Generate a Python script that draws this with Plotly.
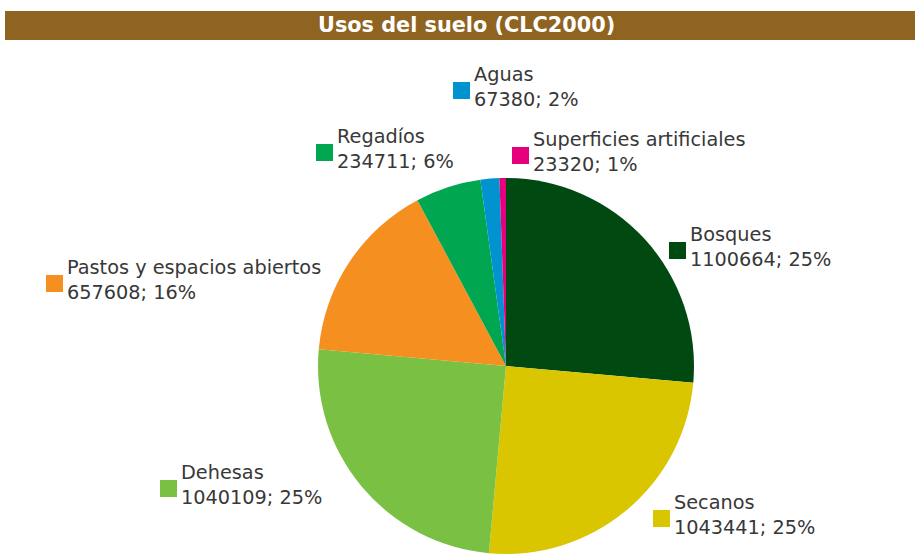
import plotly.graph_objects as go

# Land-use categories (CORINE Land Cover 2000), in clockwise order from 12 o'clock
categories = ["Bosques", "Secanos", "Dehesas", "Pastos y espacios abiertos",
              "Regadíos", "Aguas", "Superficies artificiales"]
areas = [1100664, 1043441, 1040109, 657608, 234711, 67380, 23320]
pct_labels = ["25%", "25%", "25%", "16%", "6%", "2%", "1%"]
colors = ["#004a12", "#d9c600", "#7ac143", "#f58f1f", "#00a650", "#0093d0", "#e6007e"]

W, H = 915, 554


def px(x):
    return x / W


def py(y):
    return 1 - y / H


# pie placement (pixel centre and radius)
cx, cy, r = 506, 366, 188

fig = go.Figure(go.Pie(
    labels=categories,
    values=areas,
    sort=False,
    direction="clockwise",
    rotation=0,
    marker=dict(colors=colors, line=dict(width=0)),
    textinfo="none",
    hoverinfo="label+value+percent",
    showlegend=False,
    domain=dict(x=[px(cx - r), px(cx + r)], y=[py(cy + r), py(cy - r)]),
))

# label anchor positions (top-left of the colour square, in pixels)
label_pos = {
    "Bosques": (669, 242),
    "Secanos": (653, 510),
    "Dehesas": (160, 480),
    "Pastos y espacios abiertos": (46, 275),
    "Regadíos": (316, 144),
    "Aguas": (453, 82),
    "Superficies artificiales": (512, 147),
}

shapes = [
    dict(type="rect", xref="paper", yref="paper",
         x0=px(5), x1=px(915), y0=py(40), y1=py(11),
         fillcolor="#8f6320", line=dict(width=0), layer="below"),
]
annotations = [
    dict(text="<b>Usos del suelo (CLC2000)</b>", x=px(467), y=py(25.5),
         xref="paper", yref="paper", xanchor="center", yanchor="middle",
         showarrow=False, font=dict(family="DejaVu Sans", size=20.8, color="white")),
]

sq = 17
for name, val, pct, col in zip(categories, areas, pct_labels, colors):
    sx, sy = label_pos[name]
    shapes.append(dict(type="rect", xref="paper", yref="paper",
                       x0=px(sx), x1=px(sx + sq), y0=py(sy + sq), y1=py(sy),
                       fillcolor=col, line=dict(width=0)))
    annotations.append(dict(
        text=f"{name}<br>{val}; {pct}",
        x=px(sx + sq + 2), y=py(sy + sq / 2 - 4),
        xref="paper", yref="paper", xanchor="left", yanchor="middle",
        align="left", showarrow=False,
        font=dict(family="DejaVu Sans", size=19.3, color="#383838"),
    ))

fig.update_layout(
    width=W, height=H,
    margin=dict(l=0, r=0, t=0, b=0),
    paper_bgcolor="white",
    plot_bgcolor="white",
    shapes=shapes,
    annotations=annotations,
)

fig.write_html("out.html")
